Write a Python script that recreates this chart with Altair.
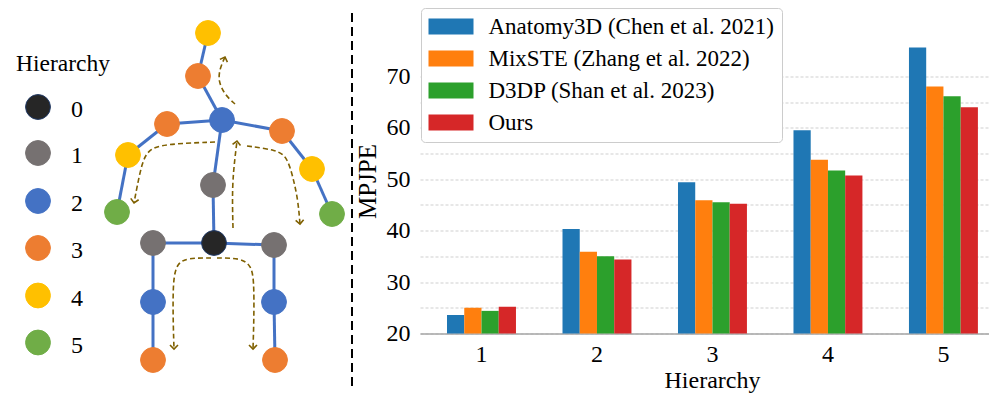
import altair as alt
import pandas as pd

# ---------------- bar chart data ----------------
hierarchy = ["1", "2", "3", "4", "5"]
methods = ["Anatomy3D (Chen et al. 2021)", "MixSTE (Zhang et al. 2022)",
           "D3DP (Shan et al. 2023)", "Ours"]
method_colors = ["#1f77b4", "#ff7f0e", "#2ca02c", "#d62728"]
anatomy3d = [23.6, 40.3, 49.4, 59.5, 75.6]
mixste = [25.0, 35.9, 45.9, 53.8, 68.0]
d3dp = [24.4, 35.0, 45.5, 51.7, 66.1]
ours = [25.2, 34.4, 45.2, 50.7, 64.0]
y_ticks = [20, 25, 30, 35, 40, 45, 50, 55, 60, 65, 70]

# ---------------- skeleton diagram data (image coordinates) ----------------
node_x = [214, 153, 274, 153, 274, 153, 275, 213, 222, 198, 208, 167, 128, 117, 282, 312, 332]
node_y = [243, 243, 245, 302, 302, 360, 360, 185, 120, 76, 33, 124, 155, 212, 131, 169, 214]
node_level = [0, 1, 1, 2, 2, 3, 3, 1, 2, 3, 4, 3, 4, 5, 3, 4, 5]
edge_from = [0, 0, 1, 3, 2, 4, 0, 7, 8, 9, 8, 11, 12, 8, 14, 15]
edge_to = [1, 2, 3, 5, 4, 6, 7, 8, 9, 10, 11, 12, 13, 14, 15, 16]
level_names = ["0", "1", "2", "3", "4", "5"]
level_colors = ["#262626", "#767171", "#4472C4", "#ED7D31", "#FFC000", "#70AD47"]
level_key_x = [38, 38, 38, 38, 38, 38]
level_key_y = [107, 153, 201, 248, 295.5, 342.5]
level_text_x = [71, 71, 71, 71, 71, 71]

# dashed flow arrows
arrow_paths = {
    "neck": [(235, 104), (225, 95), (218, 81), (220, 68), (225, 57)],
    "larm": [(215, 142), (163, 144), (148, 150), (142, 163), (137, 187), (134, 203)],
    "spine": [(233, 228), (232, 187), (235, 157), (237, 141)],
    "rarm": [(247, 146), (277, 150), (287, 157), (293, 177), (298, 200), (300, 224)],
    "lleg": [(211, 258), (188, 258), (177, 263), (173, 280), (173, 317), (174, 349)],
    "rleg": [(217, 258), (240, 258), (251, 265), (254, 280), (254, 317), (253, 349)],
}
arrow_head_angle = {"neck": 200, "larm": 10, "spine": 187, "rarm": 355, "lleg": 0, "rleg": 0}

divider_x = [352]
divider_y = [13]
divider_y2 = [387]

# ---------------- geometry ----------------
PL, PT, W, H = 420, 47.5, 569, 286
FONT = "Liberation Serif"

# ---------------- bars ----------------
bar_rows = []
for m, vals in zip(methods, [anatomy3d, mixste, d3dp, ours]):
    for h, v in zip(hierarchy, vals):
        bar_rows.append({"h": h, "m": m, "v": v})
bar_df = pd.DataFrame(bar_rows)

bars = alt.Chart(bar_df).mark_bar().encode(
    x=alt.X("h:N", sort=hierarchy,
            scale=alt.Scale(paddingInner=0.403, paddingOuter=0.165, align=0.709),
            axis=alt.Axis(title="Hierarchy", labelAngle=0, ticks=False, tickSize=0,
                          labelPadding=27.5, labelBaseline="alphabetic",
                          titleX=292, titleY=53.5, titleBaseline="alphabetic",
                          domainColor="#a6a6a6", domainWidth=1.3, grid=False)),
    xOffset=alt.XOffset("m:N", sort=methods, scale=alt.Scale(paddingInner=0, paddingOuter=0)),
    y=alt.Y("v:Q", scale=alt.Scale(domain=[20, 75.6], nice=False, zero=False),
            axis=alt.Axis(values=y_ticks,
                          labelExpr="datum.value % 10 == 0 ? datum.label : ''",
                          grid=True, gridDash=[3, 2], gridColor="#cfcfcf", gridWidth=1,
                          domain=False, ticks=False, tickSize=0, labelPadding=10,
                          title="MPJPE", titleX=-45, titleY=133.5, titleAngle=270,
                          titleFontSize=25,
                          titleBaseline="alphabetic", titleAlign="center")),
    y2=alt.datum(20),
    color=alt.Color("m:N", sort=methods,
                    scale=alt.Scale(domain=methods, range=method_colors),
                    legend=alt.Legend(title=None, orient="none", legendX=1, legendY=-39.5,
                                      symbolType="M-2.8125,-1H2.8125V1H-2.8125Z",
                                      symbolSize=256, symbolStrokeWidth=0, symbolOpacity=1,
                                      symbolOffset=11.5, labelOffset=26,
                                      labelFontSize=23, labelFont=FONT, labelColor="black",
                                      labelLimit=600, rowPadding=8, padding=7,
                                      strokeColor="#cccccc", fillColor="white",
                                      cornerRadius=4)),
)

# ---------------- skeleton ----------------
sx = alt.Scale(domain=[PL, PL + W], nice=False, zero=False)
sy = alt.Scale(domain=[PT, PT + H], nice=False, zero=False, reverse=True)


def X(f="x"):
    return alt.X(f"{f}:Q", scale=sx, axis=None)


def Y(f="y"):
    return alt.Y(f"{f}:Q", scale=sy, axis=None)


edge_df = pd.DataFrame({
    "x": [node_x[a] for a in edge_from], "y": [node_y[a] for a in edge_from],
    "x2": [node_x[b] for b in edge_to], "y2": [node_y[b] for b in edge_to],
})
edges = alt.Chart(edge_df).mark_rule(color="#4472C4", strokeWidth=3).encode(
    x=X(), y=Y(), x2="x2:Q", y2="y2:Q")

node_df = pd.DataFrame({
    "x": node_x, "y": node_y,
    "c": [level_colors[l] for l in node_level],
    "s": ["#1F3864" if l == 0 else level_colors[l] for l in node_level],
})
nodes = alt.Chart(node_df).mark_point(shape="circle", filled=True, size=616, opacity=1,
                                      strokeWidth=1).encode(
    x=X(), y=Y(), fill=alt.Fill("c:N", scale=None), stroke=alt.Stroke("s:N", scale=None))

arrow_rows = []
head_rows = []
for name, pts in arrow_paths.items():
    for i, (px, py) in enumerate(pts):
        arrow_rows.append({"p": name, "o": i, "x": px, "y": py})
    head_rows.append({"x": pts[-1][0], "y": pts[-1][1], "a": arrow_head_angle[name]})
arrow_df = pd.DataFrame(arrow_rows)
head_df = pd.DataFrame(head_rows)

arrows = alt.Chart(arrow_df).mark_line(color="#7F6000", strokeWidth=1.6, strokeDash=[5, 3],
                                       interpolate="basis").encode(
    x=X(), y=Y(), detail="p:N", order="o:Q")
heads = alt.Chart(head_df).mark_point(shape="M-1,-1L0,0L1,-1", filled=False, size=64,
                                      strokeWidth=1.6, color="#7F6000", opacity=1).encode(
    x=X(), y=Y(), angle=alt.Angle("a:Q", scale=None))

divider_df = pd.DataFrame({"x": divider_x, "y": divider_y, "y2": divider_y2})
divider = alt.Chart(divider_df).mark_rule(color="black", strokeWidth=2, strokeDash=[9, 5]).encode(
    x=X(), y=Y(), y2="y2:Q")

key_df = pd.DataFrame({"x": level_key_x, "y": level_key_y, "tx": level_text_x,
                       "c": level_colors, "s": ["#1F3864"] + level_colors[1:],
                       "t": level_names})
key_circles = alt.Chart(key_df).mark_point(shape="circle", filled=True, size=616, opacity=1,
                                           strokeWidth=1).encode(
    x=X(), y=Y(), fill=alt.Fill("c:N", scale=None), stroke=alt.Stroke("s:N", scale=None))
key_text = alt.Chart(key_df).mark_text(align="left", baseline="alphabetic", dy=10,
                                       fontSize=24, font=FONT, color="black").encode(
    x=X("tx"), y=Y(), text="t:N")

title_df = pd.DataFrame({"x": [16], "y": [71], "t": ["Hierarchy"]})
key_title = alt.Chart(title_df).mark_text(align="left", baseline="alphabetic",
                                          fontSize=23.5, font=FONT, color="black").encode(
    x=X(), y=Y(), text="t:N")

chart = alt.layer(
    bars, edges, nodes, arrows, heads, divider, key_circles, key_text, key_title
).resolve_scale(
    x="independent", y="independent"
).properties(
    width=W, height=H,
    autosize=alt.AutoSizeParams(type="none"),
    padding={"left": PL - 8, "top": PT - 8, "right": 0, "bottom": 61},
).configure_view(
    stroke=None
).configure_axis(
    labelFont=FONT, labelFontSize=24, labelColor="black",
    titleFont=FONT, titleFontSize=24, titleColor="black", titleFontWeight="normal",
)

chart.save("out.html", embed_options={"renderer": "svg", "actions": False})
